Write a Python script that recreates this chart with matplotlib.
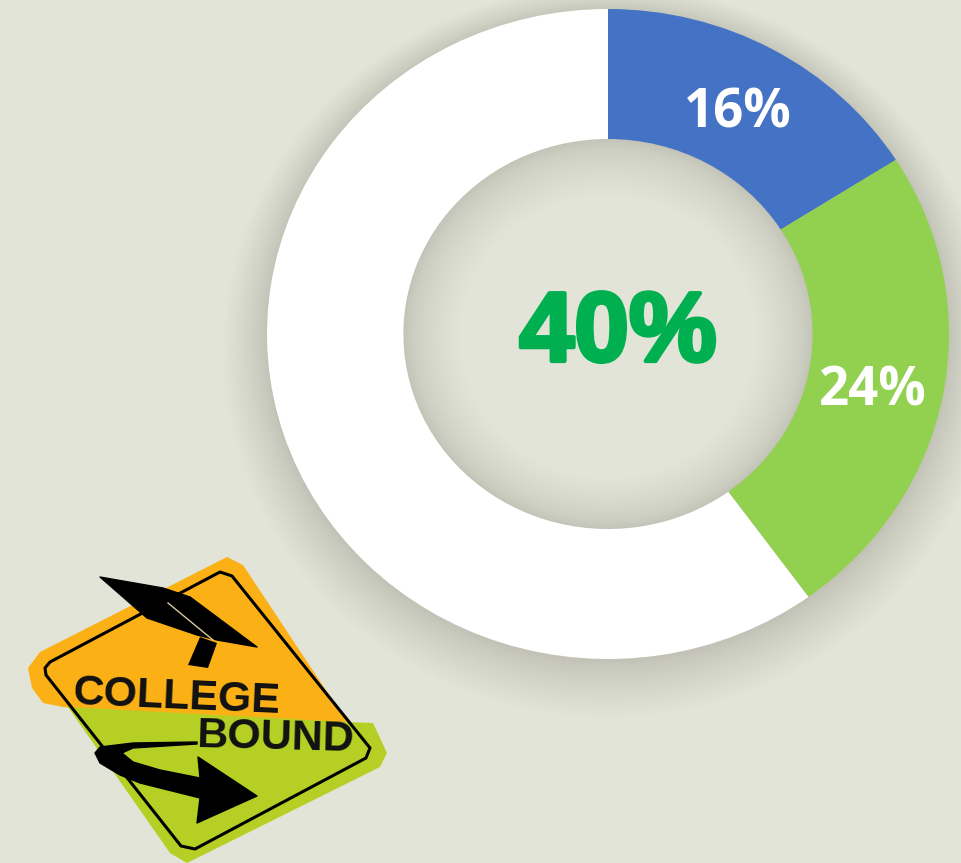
import numpy as np
import matplotlib
matplotlib.use('Agg')
import matplotlib.pyplot as plt
from matplotlib.patches import Polygon, Ellipse
import matplotlib.patheffects as pe

# chart data
labels = ['16%', '24%', '']
values = [16, 24, 60]
colors = ['#4472C4', '#92D050', '#FFFFFF']
center_label = '40%'
bg = '#E2E4D8'

W, H = 961, 863
fig = plt.figure(figsize=(W / 100, H / 100), dpi=100, facecolor=bg)

# pixel space axes for the shadows
ax0 = fig.add_axes([0, 0, 1, 1])
ax0.set_xlim(0, W)
ax0.set_ylim(H, 0)
ax0.axis('off')
ax0.set_zorder(0)

cx, cy = 608, 334
Rx, Ry = 341, 325
c0 = np.array([0xC2, 0xC3, 0xB6]) / 255
c1 = np.array([0xE2, 0xE4, 0xD8]) / 255

# soft shadow round the ring, outside in
for i in range(60):
    t = 1 - i / 59
    ax0.add_patch(Ellipse((cx, cy + 2 + 16 * t), 2 * (Rx + 45 * t), 2 * (Ry + 42 * t),
                          color=c0 + (c1 - c0) * t ** 0.8, lw=0))

# hole, darker towards the rim
ax0.add_patch(Ellipse((cx, cy), 2 * Rx * 0.62, 2 * Ry * 0.62, color=c0, lw=0))
for i in range(60):
    t = (i + 1) / 60
    g = 0.6 * (1 - 0.28 * t)
    ax0.add_patch(Ellipse((cx, cy + 3 * t), 2 * Rx * g, 2 * Ry * g, color=c0 + (c1 - c0) * t ** 0.6, lw=0))

# donut
ax = fig.add_axes([(cx - Rx) / W, 1 - (cy + Ry) / H, 2 * Rx / W, 2 * Ry / H])
ax.patch.set_alpha(0)
ax.set_zorder(1)
wedges, _ = ax.pie(values, colors=colors, startangle=90, counterclock=False, radius=1,
                   wedgeprops=dict(width=0.4, lw=0))
ax.set_aspect('auto')
ax.set_xlim(-1, 1)
ax.set_ylim(-1, 1)

# texts and logo go on a top layer in pixels
ax1 = fig.add_axes([0, 0, 1, 1])
ax1.set_xlim(0, W)
ax1.set_ylim(H, 0)
ax1.axis('off')
ax1.patch.set_alpha(0)
ax1.set_zorder(2)

ax1.text(738, 113, labels[0], color='white', fontsize=38, fontweight='bold', ha='center', va='center', family='Open Sans')
ax1.text(873, 391, labels[1], color='white', fontsize=38, fontweight='bold', ha='center', va='center', family='Open Sans')
ax1.text(618, 361, center_label, color='#00B050', fontsize=71, fontweight='bold', ha='center', va='baseline',
         family='Liberation Sans', path_effects=[pe.withStroke(linewidth=3, foreground='#00B050')])

# logo, road sign
orange = [(28, 668), (40, 652), (227, 557), (243, 565), (347, 722), (200, 722), (63, 707), (43, 703), (32, 688)]
lime = [(68, 707), (347, 722), (373, 723), (387, 753), (380, 767), (187, 863), (170, 853)]
border = [(45, 668), (50, 662), (220, 572), (232, 576), (370, 748), (366, 758), (195, 849), (181, 846), (46, 675)]
cap = [(100, 577), (163, 588), (190, 597), (257, 647), (217, 640), (197, 635), (147, 618)]
tassel = [(200, 637), (217, 643), (208, 668), (188, 665)]
arrow = [(197, 742), (133, 743), (100, 747), (95, 753), (100, 763), (120, 775), (140, 783), (200, 798), (197, 823),
         (257, 796), (198, 757), (200, 778), (160, 770), (133, 762), (122, 753), (133, 748), (197, 744)]
ax1.add_patch(Polygon(orange, fc='#FBB116', ec='none', zorder=3))
ax1.add_patch(Polygon(lime, fc='#B6CF24', ec='none', zorder=3))
ax1.add_patch(Polygon(border, fc='none', ec='black', lw=2.2, joinstyle='round', zorder=4))
ax1.add_patch(Polygon(cap, fc='black', ec='black', lw=1, joinstyle='round', zorder=5))
ax1.add_patch(Polygon(tassel, fc='black', ec='none', zorder=5))
ax1.add_patch(Polygon(arrow, fc='black', ec='black', lw=1, joinstyle='round', zorder=5))
ax1.plot([168, 213], [603, 640], color='#D8C9A0', lw=1, zorder=6)
ax1.text(72, 698, 'COLLEGE', fontsize=31, fontweight='bold', color='#111111', rotation=-2.5, ha='left', va='center',
         zorder=6, family='Liberation Sans')
ax1.text(196, 738, 'BOUND', fontsize=31, fontweight='bold', color='#111111', rotation=-1.5, ha='left', va='center',
         zorder=6, family='Liberation Sans')

fig.savefig('out.png', dpi=100, facecolor=bg)
